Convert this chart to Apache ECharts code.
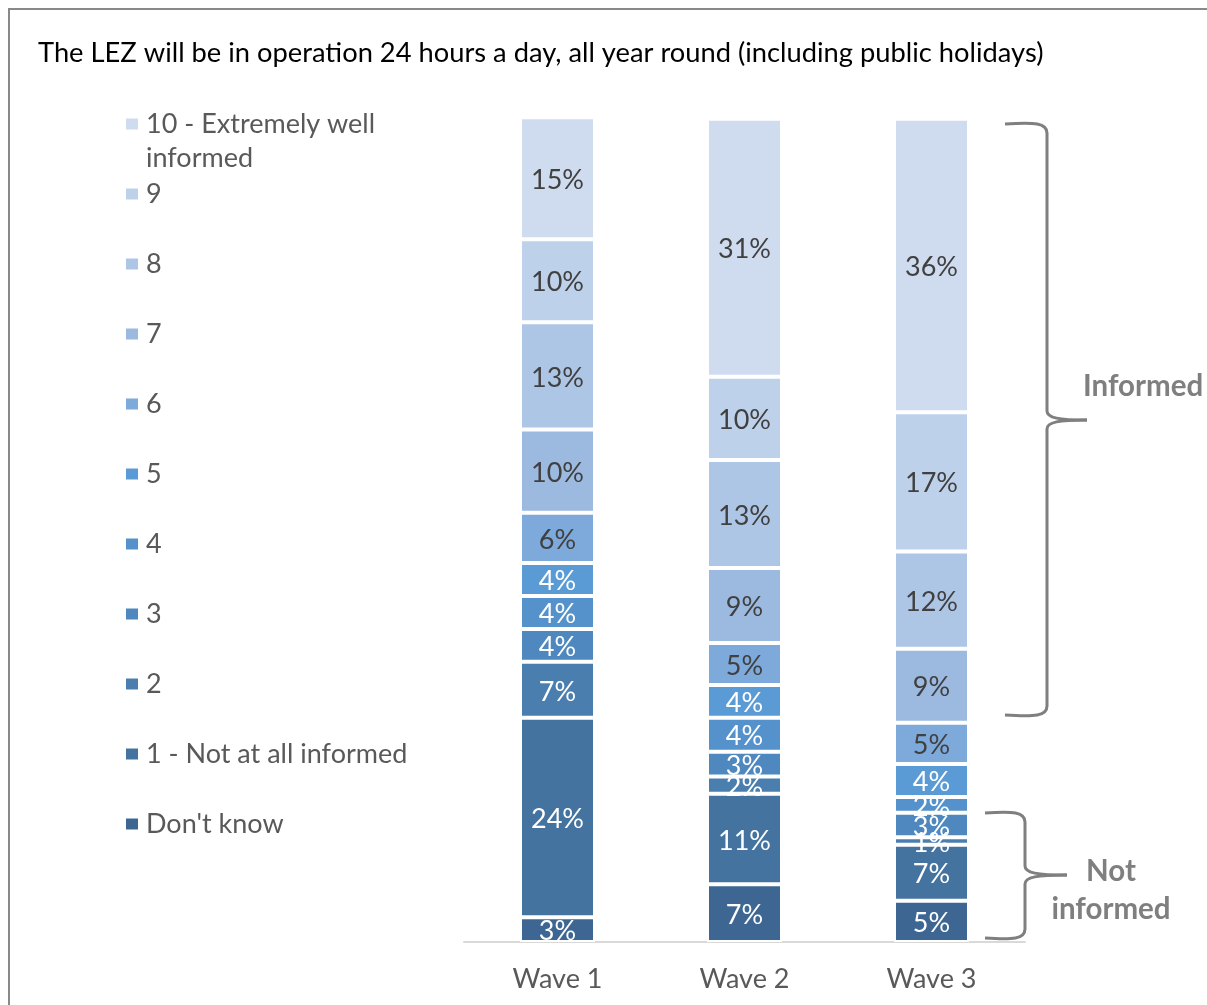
<!DOCTYPE html>
<html>
<head>
<meta charset="utf-8">
<script src="https://cdn.jsdelivr.net/npm/echarts@6/dist/echarts.min.js"></script>
<style>
  html, body { margin: 0; padding: 0; background: #fff; }
  #chart { width: 1207px; height: 1005px; }
</style>
</head>
<body>
<div id="chart"></div>
<script>
// categories and levels
const waves = ['Wave 1', 'Wave 2', 'Wave 3']
const levels = ["Don't know", '1 - Not at all informed', '2', '3', '4', '5', '6', '7', '8', '9', '10 - Extremely well informed']

// shares per wave (%)
const dontKnow = [3.0, 7.0, 5.0]
const level1 = [24.2, 11.0, 6.8]
const level2 = [6.8, 2.1, 0.9]
const level3 = [4.0, 3.0, 3.0]
const level4 = [4.0, 4.1, 1.9]
const level5 = [4.0, 4.0, 4.0]
const level6 = [6.1, 5.1, 5.0]
const level7 = [10.1, 9.1, 9.0]
const level8 = [13.0, 13.1, 11.8]
const level9 = [10.1, 10.1, 16.9]
const level10 = [14.8, 31.3, 35.6]

const values = [dontKnow, level1, level2, level3, level4, level5, level6, level7, level8, level9, level10]
const colors = ['#3D6792', '#44739F', '#4A7EAF', '#4E88BE', '#5592CB', '#5B9BD5',
                '#7DA9DB', '#9CB9E0', '#AEC6E5', '#BED1EA', '#CFDCEF']
const font = 'Lato, "Open Sans", sans-serif'
const bracketStyle = { stroke: '#7F7F7F', lineWidth: 3, fill: 'none' }

// curly bracket: open end at x0, spine at xv, tip at xt
function bracket(x0, xv, xt, yTop, yMid, yBot) {
  const r = 9
  const curve = (x1, y1, x2, y2, c1x, c1y, c2x, c2y) => ({
    type: 'bezierCurve',
    shape: { x1, y1, x2, y2, cpx1: c1x, cpy1: c1y, cpx2: c2x, cpy2: c2y },
    style: bracketStyle
  })
  const line = (x1, y1, x2, y2) => ({ type: 'line', shape: { x1, y1, x2, y2 }, style: bracketStyle })
  return [
    curve(x0, yTop, xv, yTop + r, xv - 12, yTop - 2, xv, yTop - 1),
    line(xv, yTop + r, xv, yMid - r),
    curve(xv, yMid - r, xt, yMid, xv, yMid - 2, xv + 12, yMid),
    curve(xt, yMid, xv, yMid + r, xv + 12, yMid, xv, yMid + 2),
    line(xv, yMid + r, xv, yBot - r),
    curve(xv, yBot - r, x0, yBot, xv, yBot + 1, xv - 12, yBot + 2)
  ]
}

const chart = echarts.init(document.getElementById('chart'))

const series = levels.map((name, i) => ({
  name: name,
  type: 'bar',
  stack: 'total',
  barWidth: 75,
  data: values[i],
  itemStyle: { color: colors[i], borderColor: '#fff', borderWidth: 2 },
  label: {
    show: true,
    position: 'inside',
    offset: [0, 2],
    formatter: p => Math.round(p.value) + '%',
    fontSize: 27,
    fontFamily: font,
    color: i >= 6 ? '#404040' : '#fff'
  }
}))

const textStyle = (text, size, align, weight, fill) => ({
  text, fontSize: size, fontFamily: font, fontWeight: weight, fill,
  textAlign: align, textVerticalAlign: 'middle', align: align, verticalAlign: 'middle'
})

chart.setOption({
  animation: false,
  title: {
    text: 'The LEZ will be in operation 24 hours a day, all year round (including public holidays)',
    left: 38,
    top: 40,
    padding: 0,
    textStyle: { fontSize: 27.3, fontWeight: 'normal', color: '#000', fontFamily: font }
  },
  legend: {
    orient: 'vertical',
    left: 124,
    top: 108,
    icon: 'rect',
    itemWidth: 14,
    itemHeight: 13,
    itemGap: 38,
    padding: 0,
    data: levels.slice().reverse(),
    formatter: name => name === '10 - Extremely well informed' ? '10 - Extremely well' : name,
    textStyle: { fontSize: 27, lineHeight: 32, color: '#595959', fontFamily: font, padding: [0, 0, 0, 2] }
  },
  grid: { left: 464, width: 561, top: 118, bottom: 63 },
  xAxis: {
    type: 'category',
    data: waves,
    axisLine: { lineStyle: { color: '#D9D9D9', width: 2 } },
    axisTick: { show: false },
    axisLabel: { fontSize: 27, color: '#595959', fontFamily: font, margin: 24 }
  },
  yAxis: { type: 'value', min: 0, max: 100, show: false },
  series: series,
  graphic: [
    {
      type: 'rect',
      shape: { x: 9, y: 9, width: 1220, height: 1020 },
      style: { fill: 'none', stroke: '#898989', lineWidth: 2 }
    },
    { type: 'text', x: 146, y: 158, style: textStyle('informed', 27, 'left', 'normal', '#595959') }
  ]
    .concat(bracket(1005, 1047, 1087, 124, 420, 715))
    .concat(bracket(985, 1025, 1067, 813, 875, 938))
    .concat([
      { type: 'text', x: 1083, y: 386, style: textStyle('Informed', 29.5, 'left', 'bold', '#7F7F7F') },
      { type: 'text', x: 1111, y: 871, style: textStyle('Not', 29.5, 'center', 'bold', '#7F7F7F') },
      { type: 'text', x: 1111, y: 909, style: textStyle('informed', 29.5, 'center', 'bold', '#7F7F7F') }
    ])
})
</script>
</body>
</html>
